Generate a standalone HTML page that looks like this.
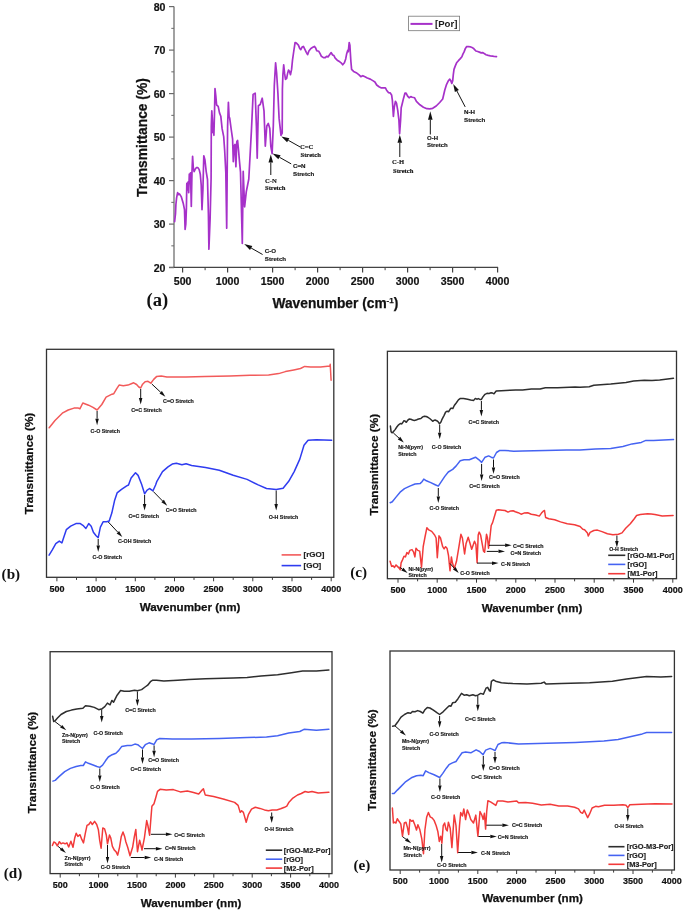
<!DOCTYPE html>
<html><head><meta charset="utf-8"><style>
html,body{margin:0;padding:0;background:#fff;width:685px;height:911px;overflow:hidden;}
svg{display:block;will-change:transform;filter:blur(0.3px);}
</style></head><body>
<svg width="685" height="911" viewBox="0 0 685 911">
<rect width="685" height="911" fill="#fff"/>
<line x1="174" y1="6.600000000000023" x2="174" y2="267.2" stroke="#7a7a7a" stroke-width="1.4"/>
<line x1="169" y1="267.4" x2="498.1" y2="267.4" stroke="#444" stroke-width="1.4"/>
<line x1="169" y1="267.6" x2="174" y2="267.6" stroke="#6a6a6a" stroke-width="1.2"/>
<text x="165.5" y="271.5" font-size="10.6" font-weight="bold" style='font-family:"Liberation Sans", sans-serif' text-anchor="end" fill="#111" stroke="#111" stroke-width="0.2">20</text>
<line x1="169" y1="224.10000000000002" x2="174" y2="224.10000000000002" stroke="#6a6a6a" stroke-width="1.2"/>
<text x="165.5" y="228.0" font-size="10.6" font-weight="bold" style='font-family:"Liberation Sans", sans-serif' text-anchor="end" fill="#111" stroke="#111" stroke-width="0.2">30</text>
<line x1="169" y1="180.60000000000002" x2="174" y2="180.60000000000002" stroke="#6a6a6a" stroke-width="1.2"/>
<text x="165.5" y="184.5" font-size="10.6" font-weight="bold" style='font-family:"Liberation Sans", sans-serif' text-anchor="end" fill="#111" stroke="#111" stroke-width="0.2">40</text>
<line x1="169" y1="137.10000000000002" x2="174" y2="137.10000000000002" stroke="#6a6a6a" stroke-width="1.2"/>
<text x="165.5" y="141.0" font-size="10.6" font-weight="bold" style='font-family:"Liberation Sans", sans-serif' text-anchor="end" fill="#111" stroke="#111" stroke-width="0.2">50</text>
<line x1="169" y1="93.60000000000002" x2="174" y2="93.60000000000002" stroke="#6a6a6a" stroke-width="1.2"/>
<text x="165.5" y="97.5" font-size="10.6" font-weight="bold" style='font-family:"Liberation Sans", sans-serif' text-anchor="end" fill="#111" stroke="#111" stroke-width="0.2">60</text>
<line x1="169" y1="50.10000000000005" x2="174" y2="50.10000000000005" stroke="#6a6a6a" stroke-width="1.2"/>
<text x="165.5" y="54.0" font-size="10.6" font-weight="bold" style='font-family:"Liberation Sans", sans-serif' text-anchor="end" fill="#111" stroke="#111" stroke-width="0.2">70</text>
<line x1="169" y1="6.600000000000023" x2="174" y2="6.600000000000023" stroke="#6a6a6a" stroke-width="1.2"/>
<text x="165.5" y="10.5" font-size="10.6" font-weight="bold" style='font-family:"Liberation Sans", sans-serif' text-anchor="end" fill="#111" stroke="#111" stroke-width="0.2">80</text>
<line x1="171.3" y1="245.85000000000002" x2="174" y2="245.85000000000002" stroke="#6a6a6a" stroke-width="1.0"/>
<line x1="171.3" y1="202.35000000000002" x2="174" y2="202.35000000000002" stroke="#6a6a6a" stroke-width="1.0"/>
<line x1="171.3" y1="158.85000000000002" x2="174" y2="158.85000000000002" stroke="#6a6a6a" stroke-width="1.0"/>
<line x1="171.3" y1="115.35000000000002" x2="174" y2="115.35000000000002" stroke="#6a6a6a" stroke-width="1.0"/>
<line x1="171.3" y1="71.85000000000005" x2="174" y2="71.85000000000005" stroke="#6a6a6a" stroke-width="1.0"/>
<line x1="171.3" y1="28.35000000000005" x2="174" y2="28.35000000000005" stroke="#6a6a6a" stroke-width="1.0"/>
<line x1="182.6" y1="267.4" x2="182.6" y2="272.5" stroke="#444" stroke-width="1.2"/>
<text x="182.6" y="284.8" font-size="10.6" font-weight="bold" style='font-family:"Liberation Sans", sans-serif' text-anchor="middle" fill="#111" stroke="#111" stroke-width="0.2">500</text>
<line x1="227.6" y1="267.4" x2="227.6" y2="272.5" stroke="#444" stroke-width="1.2"/>
<text x="227.6" y="284.8" font-size="10.6" font-weight="bold" style='font-family:"Liberation Sans", sans-serif' text-anchor="middle" fill="#111" stroke="#111" stroke-width="0.2">1000</text>
<line x1="272.6" y1="267.4" x2="272.6" y2="272.5" stroke="#444" stroke-width="1.2"/>
<text x="272.6" y="284.8" font-size="10.6" font-weight="bold" style='font-family:"Liberation Sans", sans-serif' text-anchor="middle" fill="#111" stroke="#111" stroke-width="0.2">1500</text>
<line x1="317.6" y1="267.4" x2="317.6" y2="272.5" stroke="#444" stroke-width="1.2"/>
<text x="317.6" y="284.8" font-size="10.6" font-weight="bold" style='font-family:"Liberation Sans", sans-serif' text-anchor="middle" fill="#111" stroke="#111" stroke-width="0.2">2000</text>
<line x1="362.6" y1="267.4" x2="362.6" y2="272.5" stroke="#444" stroke-width="1.2"/>
<text x="362.6" y="284.8" font-size="10.6" font-weight="bold" style='font-family:"Liberation Sans", sans-serif' text-anchor="middle" fill="#111" stroke="#111" stroke-width="0.2">2500</text>
<line x1="407.6" y1="267.4" x2="407.6" y2="272.5" stroke="#444" stroke-width="1.2"/>
<text x="407.6" y="284.8" font-size="10.6" font-weight="bold" style='font-family:"Liberation Sans", sans-serif' text-anchor="middle" fill="#111" stroke="#111" stroke-width="0.2">3000</text>
<line x1="452.6" y1="267.4" x2="452.6" y2="272.5" stroke="#444" stroke-width="1.2"/>
<text x="452.6" y="284.8" font-size="10.6" font-weight="bold" style='font-family:"Liberation Sans", sans-serif' text-anchor="middle" fill="#111" stroke="#111" stroke-width="0.2">3500</text>
<line x1="497.6" y1="267.4" x2="497.6" y2="272.5" stroke="#444" stroke-width="1.2"/>
<text x="497.6" y="284.8" font-size="10.6" font-weight="bold" style='font-family:"Liberation Sans", sans-serif' text-anchor="middle" fill="#111" stroke="#111" stroke-width="0.2">4000</text>
<line x1="205.1" y1="267.4" x2="205.1" y2="270.2" stroke="#444" stroke-width="1.0"/>
<line x1="250.1" y1="267.4" x2="250.1" y2="270.2" stroke="#444" stroke-width="1.0"/>
<line x1="295.1" y1="267.4" x2="295.1" y2="270.2" stroke="#444" stroke-width="1.0"/>
<line x1="340.1" y1="267.4" x2="340.1" y2="270.2" stroke="#444" stroke-width="1.0"/>
<line x1="385.1" y1="267.4" x2="385.1" y2="270.2" stroke="#444" stroke-width="1.0"/>
<line x1="430.1" y1="267.4" x2="430.1" y2="270.2" stroke="#444" stroke-width="1.0"/>
<line x1="475.1" y1="267.4" x2="475.1" y2="270.2" stroke="#444" stroke-width="1.0"/>
<text x="0" y="0" font-size="13.8" font-weight="bold" font-family='"Liberation Sans", sans-serif' text-anchor="middle" fill="#111" stroke="#111" stroke-width="0.25" transform="translate(147.0,137.6) rotate(-90)">Transmittance (%)</text>
<text x="272.5" y="308.2" font-size="13.75" font-weight="bold" font-family='"Liberation Sans", sans-serif' fill="#111" stroke="#111" stroke-width="0.25">Wavenumber (cm<tspan font-size="8" dy="-5.3">-1</tspan><tspan dy="5.3">)</tspan></text>
<text x="146.6" y="305.6" font-size="18.6" font-weight="bold" style='font-family:"Liberation Serif", serif' text-anchor="start" fill="#111" >(a)</text>
<polyline points="174.6,221.6 175.5,213.7 175.9,204.5 176.6,197.9 177.6,192.6 178.6,194.6 179.5,193.9 181.2,196.6 183.2,203.2 184.5,209.7 185.1,229.5 185.8,224.2 186.4,208.4 186.8,183.4 187.5,190.0 188.0,182.1 188.7,192.6 189.3,174.2 190.0,183.4 190.5,172.9 191.3,206.4 192.0,171.6 192.6,156.4 193.3,167.6 194.1,171.6 195.0,169.6 196.3,167.6 197.9,167.6 199.2,169.6 200.3,174.2 201.2,184.7 202.0,209.7 202.9,190.0 203.8,155.8 204.9,159.7 206.2,171.6 207.5,179.5 208.4,213.7 208.9,249.2 210.1,219.0 211.1,178.2 211.3,126.1 211.8,110.9 212.4,119.5 212.9,132.6 213.6,126.1 213.9,135.3 214.5,112.9 215.0,88.6 215.8,95.8 216.6,105.0 218.2,106.3 219.5,112.9 220.8,116.2 222.1,128.7 223.7,136.6 224.7,151.0 225.8,172.1 226.7,228.2 227.6,126.1 228.4,102.4 229.1,116.8 229.7,118.2 231.3,130.0 232.6,139.2 233.3,161.6 234.2,145.8 235.0,144.5 235.9,166.8 236.8,141.8 237.6,140.5 238.6,151.0 239.5,161.6 240.5,172.1 242.3,243.5 243.2,171.4 244.6,206.8 246.3,191.6 248.8,179.0 251.4,131.0 253.1,94.4 255.2,93.1 256.4,126.0 257.2,158.2 258.4,105.8 260.2,104.5 262.2,98.2 264.0,110.8 265.3,146.2 266.8,126.0 268.3,123.4 269.8,128.5 270.8,146.2 272.1,153.7 273.3,126.0 274.3,85.6 275.6,62.8 276.6,72.9 277.9,93.1 279.1,118.4 281.0,135.3 282.2,133.0 282.4,89.1 282.9,74.7 283.7,64.8 284.6,73.4 285.5,79.3 286.6,78.6 287.6,73.4 288.5,70.1 289.5,71.4 290.5,74.7 291.6,69.4 292.5,60.2 293.8,51.0 295.1,42.5 296.4,43.1 298.4,45.1 299.7,48.4 300.8,49.7 302.1,47.1 303.4,46.4 305.0,49.7 306.3,52.3 307.6,54.7 308.9,51.0 310.9,48.4 312.8,47.3 314.4,46.4 315.5,47.7 316.8,50.8 318.8,51.3 320.1,53.7 321.4,56.3 323.4,57.6 325.3,57.6 326.6,56.3 328.0,56.9 329.9,54.3 331.2,52.6 332.6,55.0 333.9,55.6 335.2,58.2 337.2,60.2 339.8,61.8 341.1,62.8 342.7,64.8 344.4,62.8 345.7,58.9 346.7,53.7 347.7,50.4 348.3,51.7 349.2,42.5 349.9,45.1 350.3,52.3 350.9,61.5 351.6,69.4 353.6,71.4 356.2,72.7 358.8,74.7 360.8,76.6 362.8,75.7 365.0,76.8 367.3,78.0 370.3,79.1 373.2,80.9 374.9,82.0 376.7,85.0 379.0,86.7 381.4,87.9 383.7,87.9 385.4,87.9 386.6,90.2 388.4,92.6 390.1,92.8 391.6,94.9 392.4,100.7 393.0,110.1 393.4,116.5 394.2,107.7 395.4,101.3 396.5,103.1 397.7,110.1 398.9,120.0 399.6,133.8 400.6,120.0 401.2,107.7 402.1,104.2 403.5,98.4 405.0,93.1 406.1,93.1 407.6,96.1 409.1,97.8 410.8,96.6 412.3,97.2 414.6,97.8 416.4,101.3 419.9,104.8 423.4,107.2 426.9,108.7 429.8,108.9 432.7,108.3 436.2,106.0 439.7,102.5 442.7,99.0 444.8,90.0 446.6,84.3 448.3,80.8 449.8,79.2 450.7,80.4 451.8,83.4 452.7,80.8 453.3,74.7 454.0,69.4 455.3,65.9 456.6,62.8 458.4,60.7 460.1,58.9 461.9,56.7 462.9,54.1 464.1,51.9 465.4,48.4 466.7,46.6 468.5,46.5 470.2,46.8 472.0,47.5 473.7,48.4 474.6,49.7 475.9,51.0 477.7,51.5 479.4,52.1 481.2,52.9 482.9,52.6 484.2,53.6 486.0,54.7 488.2,55.4 490.4,55.8 492.6,56.1 494.3,56.5 496.5,56.7" fill="none" stroke="#a631c9" stroke-width="1.7" stroke-linejoin="round" stroke-linecap="round"/>
<rect x="408.6" y="16.2" width="51" height="14.5" fill="#fff" stroke="#777" stroke-width="0.8"/>
<line x1="410.5" y1="23.9" x2="432.5" y2="23.9" stroke="#a631c9" stroke-width="2.0"/>
<text x="435" y="27.0" font-size="9.6" font-weight="bold" style='font-family:"Liberation Sans", sans-serif' text-anchor="start" fill="#1a1a1a" >[Por]</text>
<line x1="262.6" y1="254.5" x2="251.1" y2="248.0" stroke="#111" stroke-width="1.0"/>
<polygon points="244.2,244.0 252.3,246.0 250.0,250.0" fill="#111"/>
<text x="264.8" y="252.8" font-size="6.2" font-weight="bold" style='font-family:"Liberation Sans", sans-serif' text-anchor="start" fill="#1a1a1a" stroke="#1a1a1a" stroke-width="0.18">C-O</text>
<text x="264.8" y="260.8" font-size="6.2" font-weight="bold" style='font-family:"Liberation Sans", sans-serif' text-anchor="start" fill="#1a1a1a" stroke="#1a1a1a" stroke-width="0.18">Stretch</text>
<line x1="300.0" y1="146.9" x2="288.3" y2="140.3" stroke="#111" stroke-width="1.0"/>
<polygon points="281.3,136.4 289.4,138.3 287.1,142.3" fill="#111"/>
<text x="300.0" y="149.3" font-size="6.6" font-weight="bold" style='font-family:"Liberation Serif", serif' text-anchor="start" fill="#1a1a1a" stroke="#1a1a1a" stroke-width="0.18">C=C</text>
<text x="300.5" y="156.9" font-size="6.6" font-weight="bold" style='font-family:"Liberation Serif", serif' text-anchor="start" fill="#1a1a1a" stroke="#1a1a1a" stroke-width="0.18">Stretch</text>
<line x1="291.2" y1="163.9" x2="279.5" y2="157.3" stroke="#111" stroke-width="1.0"/>
<polygon points="272.5,153.4 280.6,155.3 278.3,159.3" fill="#111"/>
<text x="293.0" y="168.4" font-size="6.2" font-weight="bold" style='font-family:"Liberation Sans", sans-serif' text-anchor="start" fill="#1a1a1a" stroke="#1a1a1a" stroke-width="0.18">C=N</text>
<text x="293.0" y="176.0" font-size="6.2" font-weight="bold" style='font-family:"Liberation Sans", sans-serif' text-anchor="start" fill="#1a1a1a" stroke="#1a1a1a" stroke-width="0.18">Stretch</text>
<line x1="270.8" y1="175.0" x2="270.8" y2="162.5" stroke="#111" stroke-width="1.0"/>
<polygon points="270.8,154.5 273.1,162.5 268.5,162.5" fill="#111"/>
<text x="265.0" y="183.1" font-size="6.6" font-weight="bold" style='font-family:"Liberation Serif", serif' text-anchor="start" fill="#1a1a1a" stroke="#1a1a1a" stroke-width="0.18">C-N</text>
<text x="265.0" y="190.2" font-size="6.6" font-weight="bold" style='font-family:"Liberation Serif", serif' text-anchor="start" fill="#1a1a1a" stroke="#1a1a1a" stroke-width="0.18">Stretch</text>
<line x1="399.8" y1="157.0" x2="399.8" y2="142.8" stroke="#111" stroke-width="1.0"/>
<polygon points="399.8,134.8 402.1,142.8 397.5,142.8" fill="#111"/>
<text x="392.0" y="164.2" font-size="6.6" font-weight="bold" style='font-family:"Liberation Serif", serif' text-anchor="start" fill="#1a1a1a" stroke="#1a1a1a" stroke-width="0.18">C-H</text>
<text x="393.0" y="172.9" font-size="6.6" font-weight="bold" style='font-family:"Liberation Serif", serif' text-anchor="start" fill="#1a1a1a" stroke="#1a1a1a" stroke-width="0.18">Stretch</text>
<line x1="430.3" y1="134.5" x2="430.3" y2="119.7" stroke="#111" stroke-width="1.0"/>
<polygon points="430.3,111.2 432.6,119.7 428.0,119.7" fill="#111"/>
<text x="427.1" y="139.7" font-size="6.0" font-weight="bold" style='font-family:"Liberation Sans", sans-serif' text-anchor="start" fill="#1a1a1a" stroke="#1a1a1a" stroke-width="0.18">O-H</text>
<text x="427.1" y="147.0" font-size="6.0" font-weight="bold" style='font-family:"Liberation Sans", sans-serif' text-anchor="start" fill="#1a1a1a" stroke="#1a1a1a" stroke-width="0.18">Stretch</text>
<line x1="465.2" y1="106.9" x2="456.9" y2="91.0" stroke="#111" stroke-width="1.0"/>
<polygon points="453.2,83.9 458.9,89.9 454.9,92.1" fill="#111"/>
<text x="464.0" y="114.4" font-size="6.2" font-weight="bold" style='font-family:"Liberation Sans", sans-serif' text-anchor="start" fill="#1a1a1a" stroke="#1a1a1a" stroke-width="0.18">N-H</text>
<text x="464.0" y="122.0" font-size="6.2" font-weight="bold" style='font-family:"Liberation Sans", sans-serif' text-anchor="start" fill="#1a1a1a" stroke="#1a1a1a" stroke-width="0.18">Stretch</text>
<rect x="46.5" y="349.3" width="287.3" height="227.99999999999994" fill="none" stroke="#333" stroke-width="1.3"/>
<line x1="56.9" y1="577.3" x2="56.9" y2="581.3" stroke="#3c3c3c" stroke-width="1.0"/>
<line x1="76.5" y1="577.3" x2="76.5" y2="579.9" stroke="#3c3c3c" stroke-width="1.0"/>
<line x1="96.1" y1="577.3" x2="96.1" y2="581.3" stroke="#3c3c3c" stroke-width="1.0"/>
<line x1="115.7" y1="577.3" x2="115.7" y2="579.9" stroke="#3c3c3c" stroke-width="1.0"/>
<line x1="135.3" y1="577.3" x2="135.3" y2="581.3" stroke="#3c3c3c" stroke-width="1.0"/>
<line x1="154.9" y1="577.3" x2="154.9" y2="579.9" stroke="#3c3c3c" stroke-width="1.0"/>
<line x1="174.5" y1="577.3" x2="174.5" y2="581.3" stroke="#3c3c3c" stroke-width="1.0"/>
<line x1="194.0" y1="577.3" x2="194.0" y2="579.9" stroke="#3c3c3c" stroke-width="1.0"/>
<line x1="213.6" y1="577.3" x2="213.6" y2="581.3" stroke="#3c3c3c" stroke-width="1.0"/>
<line x1="233.2" y1="577.3" x2="233.2" y2="579.9" stroke="#3c3c3c" stroke-width="1.0"/>
<line x1="252.8" y1="577.3" x2="252.8" y2="581.3" stroke="#3c3c3c" stroke-width="1.0"/>
<line x1="272.4" y1="577.3" x2="272.4" y2="579.9" stroke="#3c3c3c" stroke-width="1.0"/>
<line x1="292.0" y1="577.3" x2="292.0" y2="581.3" stroke="#3c3c3c" stroke-width="1.0"/>
<line x1="311.6" y1="577.3" x2="311.6" y2="579.9" stroke="#3c3c3c" stroke-width="1.0"/>
<line x1="331.2" y1="577.3" x2="331.2" y2="581.3" stroke="#3c3c3c" stroke-width="1.0"/>
<text x="56.9" y="592.0" font-size="9.0" font-weight="bold" style='font-family:"Liberation Sans", sans-serif' text-anchor="middle" fill="#111" stroke="#111" stroke-width="0.2">500</text>
<text x="96.1" y="592.0" font-size="9.0" font-weight="bold" style='font-family:"Liberation Sans", sans-serif' text-anchor="middle" fill="#111" stroke="#111" stroke-width="0.2">1000</text>
<text x="135.3" y="592.0" font-size="9.0" font-weight="bold" style='font-family:"Liberation Sans", sans-serif' text-anchor="middle" fill="#111" stroke="#111" stroke-width="0.2">1500</text>
<text x="174.5" y="592.0" font-size="9.0" font-weight="bold" style='font-family:"Liberation Sans", sans-serif' text-anchor="middle" fill="#111" stroke="#111" stroke-width="0.2">2000</text>
<text x="213.6" y="592.0" font-size="9.0" font-weight="bold" style='font-family:"Liberation Sans", sans-serif' text-anchor="middle" fill="#111" stroke="#111" stroke-width="0.2">2500</text>
<text x="252.8" y="592.0" font-size="9.0" font-weight="bold" style='font-family:"Liberation Sans", sans-serif' text-anchor="middle" fill="#111" stroke="#111" stroke-width="0.2">3000</text>
<text x="292.0" y="592.0" font-size="9.0" font-weight="bold" style='font-family:"Liberation Sans", sans-serif' text-anchor="middle" fill="#111" stroke="#111" stroke-width="0.2">3500</text>
<text x="331.2" y="592.0" font-size="9.0" font-weight="bold" style='font-family:"Liberation Sans", sans-serif' text-anchor="middle" fill="#111" stroke="#111" stroke-width="0.2">4000</text>
<text x="190" y="610.7" font-size="11.6" font-weight="bold" style='font-family:"Liberation Sans", sans-serif' text-anchor="middle" fill="#111" stroke="#111" stroke-width="0.25">Wavenumber (nm)</text>
<text x="0" y="0" font-size="11.8" font-weight="bold" font-family='"Liberation Sans", sans-serif' text-anchor="middle" fill="#111" stroke="#111" stroke-width="0.25" transform="translate(33.2,463.5) rotate(-90)">Transmittance (%)</text>
<text x="1.6" y="578.8" font-size="15.2" font-weight="bold" style='font-family:"Liberation Serif", serif' text-anchor="start" fill="#111" >(b)</text>
<polyline points="49.2,427.8 55.0,420.5 62.3,413.2 68.2,410.0 74.0,408.1 78.4,408.1 79.9,408.8 82.8,403.0 88.6,405.2 93.0,407.4 97.1,410.0 101.8,404.5 106.1,397.2 112.0,394.2 113.8,393.7 116.6,388.9 119.1,385.1 123.3,385.7 128.0,385.1 131.3,383.8 133.7,382.8 136.6,384.5 138.8,387.0 140.7,388.0 142.6,384.2 145.1,381.7 148.0,381.3 150.8,383.2 153.7,379.4 156.5,376.6 161.2,376.0 166.9,377.1 185.9,377.1 204.9,376.6 230.0,376.1 250.1,375.3 268.6,374.9 278.7,373.6 285.4,371.6 293.8,369.9 300.5,368.5 304.7,366.4 310.6,366.9 320.6,366.9 329.9,366.0 330.2,364.3 331.1,380.3" fill="none" stroke="#f25a5a" stroke-width="1.5" stroke-linejoin="round" stroke-linecap="round"/>
<polyline points="49.1,555.1 52.3,549.9 55.8,543.7 59.3,541.1 61.9,542.9 63.7,537.6 66.3,529.7 70.7,526.2 75.9,523.6 80.3,523.6 82.9,525.3 85.9,528.5 88.7,523.6 91.2,526.2 93.4,532.3 96.1,535.8 98.2,537.6 100.4,527.1 103.1,521.8 106.6,521.8 109.2,521.0 111.8,513.1 114.5,500.8 117.1,492.9 121.5,489.4 126.7,485.9 128.5,485.0 131.1,478.0 135.5,472.8 138.1,475.4 141.6,484.2 144.6,493.8 146.9,490.3 149.5,488.5 153.0,490.8 155.6,485.0 156.9,481.3 162.5,471.6 168.0,466.9 172.2,464.1 176.4,463.3 181.9,464.7 186.1,463.8 191.6,465.5 205.5,467.4 219.3,470.2 233.2,475.2 247.1,479.4 258.2,484.9 266.5,488.5 276.2,489.4 283.1,488.3 288.7,481.3 294.2,471.6 299.8,459.1 304.0,445.3 308.1,440.3 316.4,439.7 331.7,440.3" fill="none" stroke="#2f3cf0" stroke-width="1.5" stroke-linejoin="round" stroke-linecap="round"/>
<line x1="97.1" y1="411.0" x2="97.1" y2="418.7" stroke="#111" stroke-width="1.0"/>
<polygon points="97.1,425.2 95.3,418.7 98.8,418.7" fill="#111"/>
<text x="90.6" y="433.1" font-size="5.3" font-weight="bold" style='font-family:"Liberation Sans", sans-serif' text-anchor="start" fill="#1a1a1a" stroke="#1a1a1a" stroke-width="0.18">C-O Stretch</text>
<line x1="140.7" y1="389.0" x2="140.7" y2="398.0" stroke="#111" stroke-width="1.0"/>
<polygon points="140.7,404.5 138.9,398.0 142.4,398.0" fill="#111"/>
<text x="131.3" y="411.7" font-size="5.3" font-weight="bold" style='font-family:"Liberation Sans", sans-serif' text-anchor="start" fill="#1a1a1a" stroke="#1a1a1a" stroke-width="0.18">C=C Stretch</text>
<line x1="151.8" y1="384.0" x2="160.7" y2="392.3" stroke="#111" stroke-width="1.0"/>
<polygon points="165.4,396.8 159.5,393.6 161.9,391.1" fill="#111"/>
<text x="163.1" y="403.1" font-size="5.3" font-weight="bold" style='font-family:"Liberation Sans", sans-serif' text-anchor="start" fill="#1a1a1a" stroke="#1a1a1a" stroke-width="0.18">C=O Stretch</text>
<line x1="98.2" y1="539.0" x2="98.2" y2="545.5" stroke="#111" stroke-width="1.0"/>
<polygon points="98.2,552.0 96.5,545.5 100.0,545.5" fill="#111"/>
<text x="92.6" y="559.4" font-size="5.3" font-weight="bold" style='font-family:"Liberation Sans", sans-serif' text-anchor="start" fill="#1a1a1a" stroke="#1a1a1a" stroke-width="0.18">C-O Stretch</text>
<line x1="108.3" y1="522.0" x2="117.8" y2="532.2" stroke="#111" stroke-width="1.0"/>
<polygon points="122.3,536.9 116.6,533.4 119.1,531.0" fill="#111"/>
<text x="118.0" y="542.8" font-size="5.3" font-weight="bold" style='font-family:"Liberation Sans", sans-serif' text-anchor="start" fill="#1a1a1a" stroke="#1a1a1a" stroke-width="0.18">C-OH Stretch</text>
<line x1="144.6" y1="495.0" x2="144.6" y2="504.1" stroke="#111" stroke-width="1.0"/>
<polygon points="144.6,510.6 142.8,504.1 146.3,504.1" fill="#111"/>
<text x="128.5" y="518.1" font-size="5.3" font-weight="bold" style='font-family:"Liberation Sans", sans-serif' text-anchor="start" fill="#1a1a1a" stroke="#1a1a1a" stroke-width="0.18">C=C Stretch</text>
<line x1="153.3" y1="491.5" x2="162.7" y2="501.1" stroke="#111" stroke-width="1.0"/>
<polygon points="167.2,505.7 161.4,502.3 163.9,499.8" fill="#111"/>
<text x="165.8" y="511.6" font-size="5.3" font-weight="bold" style='font-family:"Liberation Sans", sans-serif' text-anchor="start" fill="#1a1a1a" stroke="#1a1a1a" stroke-width="0.18">C=O Stretch</text>
<line x1="276.2" y1="490.5" x2="276.2" y2="504.1" stroke="#111" stroke-width="1.0"/>
<polygon points="276.2,510.6 274.4,504.1 277.9,504.1" fill="#111"/>
<text x="268.7" y="518.6" font-size="5.3" font-weight="bold" style='font-family:"Liberation Sans", sans-serif' text-anchor="start" fill="#1a1a1a" stroke="#1a1a1a" stroke-width="0.18">O-H Stretch</text>
<line x1="281.6" y1="554.9" x2="301.1" y2="554.9" stroke="#f25a5a" stroke-width="1.6"/>
<text x="303.5" y="557.3" font-size="8.0" font-weight="bold" style='font-family:"Liberation Sans", sans-serif' text-anchor="start" fill="#222" stroke="#222" stroke-width="0.18">[rGO]</text>
<line x1="281.6" y1="565.6" x2="301.1" y2="565.6" stroke="#2f3cf0" stroke-width="1.6"/>
<text x="303.5" y="568.0" font-size="8.0" font-weight="bold" style='font-family:"Liberation Sans", sans-serif' text-anchor="start" fill="#222" stroke="#222" stroke-width="0.18">[GO]</text>
<rect x="387.4" y="351.3" width="289.1" height="227.40000000000003" fill="none" stroke="#333" stroke-width="1.3"/>
<line x1="398.0" y1="578.7" x2="398.0" y2="582.7" stroke="#3c3c3c" stroke-width="1.0"/>
<line x1="417.6" y1="578.7" x2="417.6" y2="581.3000000000001" stroke="#3c3c3c" stroke-width="1.0"/>
<line x1="437.2" y1="578.7" x2="437.2" y2="582.7" stroke="#3c3c3c" stroke-width="1.0"/>
<line x1="456.9" y1="578.7" x2="456.9" y2="581.3000000000001" stroke="#3c3c3c" stroke-width="1.0"/>
<line x1="476.5" y1="578.7" x2="476.5" y2="582.7" stroke="#3c3c3c" stroke-width="1.0"/>
<line x1="496.1" y1="578.7" x2="496.1" y2="581.3000000000001" stroke="#3c3c3c" stroke-width="1.0"/>
<line x1="515.8" y1="578.7" x2="515.8" y2="582.7" stroke="#3c3c3c" stroke-width="1.0"/>
<line x1="535.4" y1="578.7" x2="535.4" y2="581.3000000000001" stroke="#3c3c3c" stroke-width="1.0"/>
<line x1="555.0" y1="578.7" x2="555.0" y2="582.7" stroke="#3c3c3c" stroke-width="1.0"/>
<line x1="574.6" y1="578.7" x2="574.6" y2="581.3000000000001" stroke="#3c3c3c" stroke-width="1.0"/>
<line x1="594.2" y1="578.7" x2="594.2" y2="582.7" stroke="#3c3c3c" stroke-width="1.0"/>
<line x1="613.9" y1="578.7" x2="613.9" y2="581.3000000000001" stroke="#3c3c3c" stroke-width="1.0"/>
<line x1="633.5" y1="578.7" x2="633.5" y2="582.7" stroke="#3c3c3c" stroke-width="1.0"/>
<line x1="653.1" y1="578.7" x2="653.1" y2="581.3000000000001" stroke="#3c3c3c" stroke-width="1.0"/>
<line x1="672.8" y1="578.7" x2="672.8" y2="582.7" stroke="#3c3c3c" stroke-width="1.0"/>
<text x="398.0" y="593.3" font-size="9.0" font-weight="bold" style='font-family:"Liberation Sans", sans-serif' text-anchor="middle" fill="#111" stroke="#111" stroke-width="0.2">500</text>
<text x="437.2" y="593.3" font-size="9.0" font-weight="bold" style='font-family:"Liberation Sans", sans-serif' text-anchor="middle" fill="#111" stroke="#111" stroke-width="0.2">1000</text>
<text x="476.5" y="593.3" font-size="9.0" font-weight="bold" style='font-family:"Liberation Sans", sans-serif' text-anchor="middle" fill="#111" stroke="#111" stroke-width="0.2">1500</text>
<text x="515.8" y="593.3" font-size="9.0" font-weight="bold" style='font-family:"Liberation Sans", sans-serif' text-anchor="middle" fill="#111" stroke="#111" stroke-width="0.2">2000</text>
<text x="555.0" y="593.3" font-size="9.0" font-weight="bold" style='font-family:"Liberation Sans", sans-serif' text-anchor="middle" fill="#111" stroke="#111" stroke-width="0.2">2500</text>
<text x="594.2" y="593.3" font-size="9.0" font-weight="bold" style='font-family:"Liberation Sans", sans-serif' text-anchor="middle" fill="#111" stroke="#111" stroke-width="0.2">3000</text>
<text x="633.5" y="593.3" font-size="9.0" font-weight="bold" style='font-family:"Liberation Sans", sans-serif' text-anchor="middle" fill="#111" stroke="#111" stroke-width="0.2">3500</text>
<text x="672.8" y="593.3" font-size="9.0" font-weight="bold" style='font-family:"Liberation Sans", sans-serif' text-anchor="middle" fill="#111" stroke="#111" stroke-width="0.2">4000</text>
<text x="532" y="611.6" font-size="11.6" font-weight="bold" style='font-family:"Liberation Sans", sans-serif' text-anchor="middle" fill="#111" stroke="#111" stroke-width="0.25">Wavenumber (nm)</text>
<text x="0" y="0" font-size="11.8" font-weight="bold" font-family='"Liberation Sans", sans-serif' text-anchor="middle" fill="#111" stroke="#111" stroke-width="0.25" transform="translate(378.2,464.7) rotate(-90)">Transmittance (%)</text>
<text x="350.2" y="577.0" font-size="15.2" font-weight="bold" style='font-family:"Liberation Serif", serif' text-anchor="start" fill="#111" >(c)</text>
<polyline points="390.4,426.1 391.1,431.8 392.0,432.8 393.3,431.8 395.1,429.6 396.8,427.0 398.6,424.8 400.3,423.5 401.6,423.9 403.0,422.2 403.8,420.8 405.0,421.1 405.8,422.0 406.5,422.2 407.6,420.4 409.1,419.1 410.8,419.3 412.6,420.0 414.3,420.4 416.1,420.1 417.8,419.3 419.6,418.8 420.9,418.5 422.7,416.9 424.4,416.3 426.2,416.5 427.9,417.3 429.7,418.5 431.4,420.0 432.7,421.3 433.9,420.4 435.1,420.0 436.7,420.7 438.0,421.7 439.5,423.9 441.1,421.7 442.0,419.3 444.1,415.3 445.6,412.2 447.2,411.2 448.7,411.7 450.2,409.1 451.2,408.1 452.8,408.6 454.3,405.5 456.4,402.7 458.4,399.9 460.4,398.4 463.5,398.4 467.6,399.2 470.7,399.9 473.7,400.4 475.3,398.4 476.8,399.2 478.3,398.6 479.9,399.4 481.4,399.4 482.9,396.9 485.0,394.3 487.0,393.3 489.0,393.5 491.1,392.8 492.6,393.1 494.0,393.8 496.2,391.0 501.3,390.7 510.0,390.2 515.6,389.9 522.6,389.9 531.3,389.1 540.1,389.1 545.3,387.8 557.6,387.7 575.1,387.0 580.0,387.2 589.2,386.8 593.8,385.2 610.7,384.1 626.0,382.6 633.6,381.1 644.4,380.2 652.0,380.6 659.7,379.9 673.5,378.3" fill="none" stroke="#2e2e2e" stroke-width="1.5" stroke-linejoin="round" stroke-linecap="round"/>
<polyline points="390.2,502.7 392.3,501.8 395.8,497.4 400.1,492.2 404.5,488.7 409.8,486.1 415.0,484.0 420.3,483.4 422.0,481.7 423.8,479.1 426.4,480.8 430.8,482.6 435.2,484.7 438.3,486.1 441.3,481.7 444.8,476.4 448.3,472.0 452.7,469.4 456.2,465.9 460.2,460.7 464.1,459.8 469.3,459.8 475.5,457.2 479.0,459.8 481.6,462.4 485.1,457.2 488.6,455.9 491.2,457.2 493.5,458.0 496.5,452.5 499.8,450.4 505.0,450.4 513.8,451.2 522.6,450.9 545.3,450.4 566.4,450.0 580.0,449.9 595.3,449.1 610.7,448.5 622.9,446.5 632.1,443.9 641.3,442.4 645.9,440.4 653.6,440.4 673.5,439.6" fill="none" stroke="#4563f2" stroke-width="1.5" stroke-linejoin="round" stroke-linecap="round"/>
<polyline points="390.1,561.3 391.6,566.4 393.0,565.7 394.5,567.4 396.0,565.0 397.4,566.4 398.9,567.9 400.3,569.8 401.1,562.8 402.5,559.9 404.0,556.2 405.4,556.9 406.9,552.6 408.4,554.0 409.8,550.4 412.0,549.6 413.5,551.8 414.9,556.9 416.0,548.2 417.8,550.4 419.7,551.1 421.5,567.2 423.2,546.7 425.1,536.5 426.9,527.7 428.8,529.9 431.7,531.4 434.6,535.0 436.1,538.0 437.3,557.7 439.0,535.8 440.5,538.0 442.7,546.7 444.1,548.9 445.6,546.7 447.0,548.2 448.5,555.5 450.0,570.8 451.4,556.9 452.4,562.8 454.3,568.6 456.5,561.3 458.7,548.2 460.9,534.3 462.4,538.0 464.6,554.0 466.0,543.8 468.2,537.2 469.7,542.3 471.7,549.2 474.5,541.2 475.9,544.5 477.1,562.8 478.2,535.0 479.2,532.1 480.6,535.0 482.2,543.8 483.5,551.1 484.6,552.3 485.8,540.9 486.5,534.3 487.5,538.0 488.5,548.2 489.7,539.4 491.2,525.5 492.6,522.6 494.1,517.5 496.3,510.2 498.5,509.8 502.1,510.2 505.0,510.5 508.0,512.1 510.9,510.9 513.1,510.7 515.3,511.7 518.2,512.7 521.1,514.2 524.0,513.1 527.7,512.7 531.3,514.2 535.7,515.0 539.3,516.1 541.5,513.1 543.0,511.4 544.5,510.5 545.6,517.5 548.8,518.7 554.7,519.7 560.5,521.9 567.3,523.8 574.6,524.7 580.1,526.5 582.8,529.2 584.6,529.8 587.4,532.9 588.3,536.0 590.1,532.3 593.8,530.5 597.4,530.1 602.0,531.6 607.4,533.8 612.9,534.7 618.4,534.2 622.0,532.9 625.7,528.3 630.3,523.8 633.9,519.2 636.6,515.5 640.3,514.6 647.6,513.7 651.2,514.1 654.9,514.6 662.2,515.9 673.1,515.5" fill="none" stroke="#f23a3a" stroke-width="1.5" stroke-linejoin="round" stroke-linecap="round"/>
<line x1="393.3" y1="432.9" x2="399.0" y2="438.1" stroke="#111" stroke-width="1.0"/>
<polygon points="403.8,442.5 397.8,439.4 400.2,436.8" fill="#111"/>
<text x="398.2" y="449.1" font-size="5.3" font-weight="bold" style='font-family:"Liberation Sans", sans-serif' text-anchor="start" fill="#1a1a1a" stroke="#1a1a1a" stroke-width="0.18">Ni-N(pyrr)</text>
<text x="398.2" y="455.9" font-size="5.3" font-weight="bold" style='font-family:"Liberation Sans", sans-serif' text-anchor="start" fill="#1a1a1a" stroke="#1a1a1a" stroke-width="0.18">Stretch</text>
<line x1="439.7" y1="425.0" x2="439.7" y2="432.7" stroke="#111" stroke-width="1.0"/>
<polygon points="439.7,439.2 437.9,432.7 441.4,432.7" fill="#111"/>
<text x="431.8" y="448.7" font-size="5.3" font-weight="bold" style='font-family:"Liberation Sans", sans-serif' text-anchor="start" fill="#1a1a1a" stroke="#1a1a1a" stroke-width="0.18">C-O Stretch</text>
<line x1="481.4" y1="401.0" x2="481.4" y2="409.9" stroke="#111" stroke-width="1.0"/>
<polygon points="481.4,416.4 479.6,409.9 483.1,409.9" fill="#111"/>
<text x="468.6" y="424.4" font-size="5.3" font-weight="bold" style='font-family:"Liberation Sans", sans-serif' text-anchor="start" fill="#1a1a1a" stroke="#1a1a1a" stroke-width="0.18">C=C Stretch</text>
<line x1="438.3" y1="488.0" x2="438.3" y2="496.4" stroke="#111" stroke-width="1.0"/>
<polygon points="438.3,502.9 436.6,496.4 440.1,496.4" fill="#111"/>
<text x="429.6" y="510.3" font-size="5.3" font-weight="bold" style='font-family:"Liberation Sans", sans-serif' text-anchor="start" fill="#1a1a1a" stroke="#1a1a1a" stroke-width="0.18">C-O Stretch</text>
<line x1="481.6" y1="464.0" x2="481.6" y2="474.5" stroke="#111" stroke-width="1.0"/>
<polygon points="481.6,481.0 479.9,474.5 483.4,474.5" fill="#111"/>
<text x="469.3" y="488.1" font-size="5.3" font-weight="bold" style='font-family:"Liberation Sans", sans-serif' text-anchor="start" fill="#1a1a1a" stroke="#1a1a1a" stroke-width="0.18">C=C Stretch</text>
<line x1="493.5" y1="459.5" x2="493.5" y2="467.5" stroke="#111" stroke-width="1.0"/>
<polygon points="493.5,474.0 491.8,467.5 495.2,467.5" fill="#111"/>
<text x="489.0" y="479.4" font-size="5.3" font-weight="bold" style='font-family:"Liberation Sans", sans-serif' text-anchor="start" fill="#1a1a1a" stroke="#1a1a1a" stroke-width="0.18">C=O Stretch</text>
<line x1="399.6" y1="567.2" x2="402.3" y2="569.2" stroke="#111" stroke-width="1.0"/>
<polygon points="407.6,573.0 401.3,570.6 403.4,567.8" fill="#111"/>
<text x="408.4" y="570.5" font-size="5.3" font-weight="bold" style='font-family:"Liberation Sans", sans-serif' text-anchor="start" fill="#1a1a1a" stroke="#1a1a1a" stroke-width="0.18">Ni-N(pyrr)</text>
<text x="408.4" y="577.3" font-size="5.3" font-weight="bold" style='font-family:"Liberation Sans", sans-serif' text-anchor="start" fill="#1a1a1a" stroke="#1a1a1a" stroke-width="0.18">Stretch</text>
<line x1="450.0" y1="563.5" x2="454.3" y2="568.2" stroke="#111" stroke-width="1.0"/>
<polygon points="458.7,573.0 453.0,569.4 455.6,567.0" fill="#111"/>
<text x="460.2" y="575.1" font-size="5.3" font-weight="bold" style='font-family:"Liberation Sans", sans-serif' text-anchor="start" fill="#1a1a1a" stroke="#1a1a1a" stroke-width="0.18">C-O Stretch</text>
<line x1="489.0" y1="545.3" x2="505.1" y2="545.3" stroke="#111" stroke-width="1.0"/>
<polygon points="511.6,545.3 505.1,547.0 505.1,543.5" fill="#111"/>
<text x="513.1" y="548.1" font-size="5.3" font-weight="bold" style='font-family:"Liberation Sans", sans-serif' text-anchor="start" fill="#1a1a1a" stroke="#1a1a1a" stroke-width="0.18">C=C Stretch</text>
<line x1="486.8" y1="551.4" x2="498.5" y2="551.4" stroke="#111" stroke-width="1.0"/>
<polygon points="505.0,551.4 498.5,553.1 498.5,549.6" fill="#111"/>
<text x="510.6" y="554.9" font-size="5.3" font-weight="bold" style='font-family:"Liberation Sans", sans-serif' text-anchor="start" fill="#1a1a1a" stroke="#1a1a1a" stroke-width="0.18">C=N Stretch</text>
<line x1="477.0" y1="563.1" x2="492.0" y2="563.1" stroke="#111" stroke-width="1.0"/>
<polygon points="498.5,563.1 492.0,564.9 492.0,561.4" fill="#111"/>
<text x="501.1" y="565.6" font-size="5.3" font-weight="bold" style='font-family:"Liberation Sans", sans-serif' text-anchor="start" fill="#1a1a1a" stroke="#1a1a1a" stroke-width="0.18">C-N Stretch</text>
<line x1="616.9" y1="535.5" x2="616.9" y2="541.0" stroke="#111" stroke-width="1.0"/>
<polygon points="616.9,547.5 615.1,541.0 618.6,541.0" fill="#111"/>
<text x="609.3" y="550.9" font-size="5.2" font-weight="bold" style='font-family:"Liberation Sans", sans-serif' text-anchor="start" fill="#1a1a1a" stroke="#1a1a1a" stroke-width="0.18">O-H Stretch</text>
<line x1="608.2" y1="555.3" x2="625.3" y2="555.3" stroke="#2e2e2e" stroke-width="1.6"/>
<text x="627.5" y="557.8" font-size="7.4" font-weight="bold" style='font-family:"Liberation Sans", sans-serif' text-anchor="start" fill="#222" stroke="#222" stroke-width="0.18">[rGO-M1-Por]</text>
<line x1="608.2" y1="564.4" x2="625.3" y2="564.4" stroke="#4563f2" stroke-width="1.6"/>
<text x="627.5" y="566.9" font-size="7.4" font-weight="bold" style='font-family:"Liberation Sans", sans-serif' text-anchor="start" fill="#222" stroke="#222" stroke-width="0.18">[rGO]</text>
<line x1="608.2" y1="573.7" x2="625.3" y2="573.7" stroke="#f23a3a" stroke-width="1.6"/>
<text x="627.5" y="576.2" font-size="7.4" font-weight="bold" style='font-family:"Liberation Sans", sans-serif' text-anchor="start" fill="#222" stroke="#222" stroke-width="0.18">[M1-Por]</text>
<rect x="50.1" y="651.7" width="281.9" height="221.89999999999998" fill="none" stroke="#333" stroke-width="1.3"/>
<line x1="60.2" y1="873.6" x2="60.2" y2="877.6" stroke="#3c3c3c" stroke-width="1.0"/>
<line x1="79.4" y1="873.6" x2="79.4" y2="876.2" stroke="#3c3c3c" stroke-width="1.0"/>
<line x1="98.6" y1="873.6" x2="98.6" y2="877.6" stroke="#3c3c3c" stroke-width="1.0"/>
<line x1="117.8" y1="873.6" x2="117.8" y2="876.2" stroke="#3c3c3c" stroke-width="1.0"/>
<line x1="137.0" y1="873.6" x2="137.0" y2="877.6" stroke="#3c3c3c" stroke-width="1.0"/>
<line x1="156.2" y1="873.6" x2="156.2" y2="876.2" stroke="#3c3c3c" stroke-width="1.0"/>
<line x1="175.4" y1="873.6" x2="175.4" y2="877.6" stroke="#3c3c3c" stroke-width="1.0"/>
<line x1="194.6" y1="873.6" x2="194.6" y2="876.2" stroke="#3c3c3c" stroke-width="1.0"/>
<line x1="213.8" y1="873.6" x2="213.8" y2="877.6" stroke="#3c3c3c" stroke-width="1.0"/>
<line x1="233.0" y1="873.6" x2="233.0" y2="876.2" stroke="#3c3c3c" stroke-width="1.0"/>
<line x1="252.2" y1="873.6" x2="252.2" y2="877.6" stroke="#3c3c3c" stroke-width="1.0"/>
<line x1="271.4" y1="873.6" x2="271.4" y2="876.2" stroke="#3c3c3c" stroke-width="1.0"/>
<line x1="290.6" y1="873.6" x2="290.6" y2="877.6" stroke="#3c3c3c" stroke-width="1.0"/>
<line x1="309.8" y1="873.6" x2="309.8" y2="876.2" stroke="#3c3c3c" stroke-width="1.0"/>
<line x1="329.0" y1="873.6" x2="329.0" y2="877.6" stroke="#3c3c3c" stroke-width="1.0"/>
<text x="60.2" y="888.3" font-size="9.0" font-weight="bold" style='font-family:"Liberation Sans", sans-serif' text-anchor="middle" fill="#111" stroke="#111" stroke-width="0.2">500</text>
<text x="98.6" y="888.3" font-size="9.0" font-weight="bold" style='font-family:"Liberation Sans", sans-serif' text-anchor="middle" fill="#111" stroke="#111" stroke-width="0.2">1000</text>
<text x="137.0" y="888.3" font-size="9.0" font-weight="bold" style='font-family:"Liberation Sans", sans-serif' text-anchor="middle" fill="#111" stroke="#111" stroke-width="0.2">1500</text>
<text x="175.4" y="888.3" font-size="9.0" font-weight="bold" style='font-family:"Liberation Sans", sans-serif' text-anchor="middle" fill="#111" stroke="#111" stroke-width="0.2">2000</text>
<text x="213.8" y="888.3" font-size="9.0" font-weight="bold" style='font-family:"Liberation Sans", sans-serif' text-anchor="middle" fill="#111" stroke="#111" stroke-width="0.2">2500</text>
<text x="252.2" y="888.3" font-size="9.0" font-weight="bold" style='font-family:"Liberation Sans", sans-serif' text-anchor="middle" fill="#111" stroke="#111" stroke-width="0.2">3000</text>
<text x="290.6" y="888.3" font-size="9.0" font-weight="bold" style='font-family:"Liberation Sans", sans-serif' text-anchor="middle" fill="#111" stroke="#111" stroke-width="0.2">3500</text>
<text x="329.0" y="888.3" font-size="9.0" font-weight="bold" style='font-family:"Liberation Sans", sans-serif' text-anchor="middle" fill="#111" stroke="#111" stroke-width="0.2">4000</text>
<text x="191" y="906.6" font-size="11.6" font-weight="bold" style='font-family:"Liberation Sans", sans-serif' text-anchor="middle" fill="#111" stroke="#111" stroke-width="0.25">Wavenumber (nm)</text>
<text x="0" y="0" font-size="11.8" font-weight="bold" font-family='"Liberation Sans", sans-serif' text-anchor="middle" fill="#111" stroke="#111" stroke-width="0.25" transform="translate(35.7,762.5) rotate(-90)">Transmittance (%)</text>
<text x="3.6999999999999997" y="878.0" font-size="15.2" font-weight="bold" style='font-family:"Liberation Serif", serif' text-anchor="start" fill="#111" >(d)</text>
<polyline points="52.6,716.2 53.7,721.5 54.9,720.9 57.5,718.0 61.0,714.5 66.3,711.5 71.5,710.1 76.8,708.9 82.9,708.3 85.5,705.7 89.9,706.2 94.3,707.4 98.7,709.7 102.2,708.7 104.8,706.6 107.4,703.1 110.1,704.8 111.8,700.4 113.6,702.2 117.1,695.2 120.6,690.5 124.1,691.3 129.3,691.2 134.6,690.3 137.4,690.8 141.6,689.6 145.1,687.0 147.7,685.2 150.4,681.7 152.8,680.2 156.5,680.3 163.9,681.1 177.7,680.2 188.8,679.4 205.5,678.8 233.2,678.0 247.1,677.4 261.0,676.1 277.6,674.7 291.5,672.7 302.6,671.1 316.4,671.1 328.9,670.0" fill="none" stroke="#2e2e2e" stroke-width="1.5" stroke-linejoin="round" stroke-linecap="round"/>
<polyline points="52.9,781.1 55.2,780.4 59.0,776.6 64.7,771.6 70.4,768.4 76.1,766.5 80.8,765.5 83.3,765.5 85.5,761.8 88.4,763.3 93.1,765.0 96.9,766.5 99.8,767.4 102.6,765.2 105.5,760.8 108.3,757.0 112.1,754.7 115.9,753.2 118.8,750.4 121.6,746.6 127.3,745.6 131.1,745.6 134.9,744.1 137.7,744.7 140.6,747.0 142.5,748.5 145.3,744.7 149.1,742.8 152.0,743.7 153.9,744.7 156.7,739.9 159.7,738.5 172.2,739.0 191.6,739.0 219.3,738.5 247.1,737.6 266.5,737.1 277.6,735.7 288.7,732.9 299.8,731.5 304.0,729.3 316.4,730.2 328.9,729.3" fill="none" stroke="#4563f2" stroke-width="1.5" stroke-linejoin="round" stroke-linecap="round"/>
<polyline points="52.4,845.5 53.8,842.0 55.5,842.9 57.3,845.9 59.4,841.7 61.1,843.8 62.9,842.9 65.1,843.8 66.9,842.9 68.7,847.0 70.9,841.2 73.0,847.3 74.8,837.7 76.2,833.3 77.9,836.4 80.0,834.7 81.8,839.4 83.5,842.9 85.3,833.3 87.0,825.4 88.8,824.5 90.6,821.9 92.3,824.5 94.6,821.4 96.7,824.5 98.4,829.8 99.7,840.3 101.1,848.2 102.8,828.0 104.6,828.9 106.3,835.0 107.5,843.8 109.5,835.0 110.7,837.7 112.4,846.4 114.2,849.9 116.0,851.7 117.7,855.2 119.5,847.3 121.2,836.8 123.0,831.9 124.7,836.8 125.9,842.0 127.7,847.3 130.0,855.7 132.6,847.3 134.3,836.8 135.8,829.4 137.5,851.7 139.6,840.3 141.0,845.5 142.0,850.1 144.4,837.8 146.7,820.6 147.9,825.5 149.6,835.2 150.9,818.5 151.9,806.3 154.0,803.7 155.8,797.5 157.5,791.4 160.1,789.3 166.3,790.0 173.3,789.6 180.3,791.9 187.3,790.9 192.6,792.3 198.7,794.0 201.3,790.9 203.4,788.8 205.2,794.9 213.6,796.6 224.1,799.3 234.6,802.4 238.1,805.4 240.2,812.4 241.6,810.7 243.4,812.4 246.2,822.3 248.5,814.3 251.5,809.1 255.3,807.3 259.9,808.4 264.5,809.9 268.4,810.7 272.2,809.9 276.8,810.0 280.6,808.8 284.5,807.3 286.8,806.1 289.0,802.2 292.9,798.1 297.5,795.0 301.3,793.5 305.1,791.5 308.2,792.3 312.0,791.5 318.2,793.0 328.9,792.3" fill="none" stroke="#f23a3a" stroke-width="1.5" stroke-linejoin="round" stroke-linecap="round"/>
<line x1="54.9" y1="721.5" x2="61.1" y2="726.3" stroke="#111" stroke-width="1.0"/>
<polygon points="66.3,730.2 60.1,727.6 62.2,724.9" fill="#111"/>
<text x="61.9" y="736.7" font-size="5.3" font-weight="bold" style='font-family:"Liberation Sans", sans-serif' text-anchor="start" fill="#1a1a1a" stroke="#1a1a1a" stroke-width="0.18">Zn-N(pyrr)</text>
<text x="61.9" y="743.1" font-size="5.3" font-weight="bold" style='font-family:"Liberation Sans", sans-serif' text-anchor="start" fill="#1a1a1a" stroke="#1a1a1a" stroke-width="0.18">Stretch</text>
<line x1="101.7" y1="709.5" x2="101.7" y2="716.0" stroke="#111" stroke-width="1.0"/>
<polygon points="101.7,722.5 100.0,716.0 103.5,716.0" fill="#111"/>
<text x="93.4" y="735.1" font-size="5.3" font-weight="bold" style='font-family:"Liberation Sans", sans-serif' text-anchor="start" fill="#1a1a1a" stroke="#1a1a1a" stroke-width="0.18">C-O Stretch</text>
<line x1="137.4" y1="691.5" x2="137.4" y2="699.4" stroke="#111" stroke-width="1.0"/>
<polygon points="137.4,705.9 135.7,699.4 139.2,699.4" fill="#111"/>
<text x="125.3" y="712.1" font-size="5.3" font-weight="bold" style='font-family:"Liberation Sans", sans-serif' text-anchor="start" fill="#1a1a1a" stroke="#1a1a1a" stroke-width="0.18">C=C Stretch</text>
<line x1="99.8" y1="768.5" x2="99.8" y2="775.4" stroke="#111" stroke-width="1.0"/>
<polygon points="99.8,781.9 98.0,775.4 101.5,775.4" fill="#111"/>
<text x="90.3" y="788.5" font-size="5.3" font-weight="bold" style='font-family:"Liberation Sans", sans-serif' text-anchor="start" fill="#1a1a1a" stroke="#1a1a1a" stroke-width="0.18">C-O Stretch</text>
<line x1="142.5" y1="749.5" x2="142.5" y2="757.4" stroke="#111" stroke-width="1.0"/>
<polygon points="142.5,763.9 140.8,757.4 144.2,757.4" fill="#111"/>
<text x="130.5" y="771.1" font-size="5.3" font-weight="bold" style='font-family:"Liberation Sans", sans-serif' text-anchor="start" fill="#1a1a1a" stroke="#1a1a1a" stroke-width="0.18">C=C Stretch</text>
<line x1="154.1" y1="745.5" x2="154.1" y2="750.7" stroke="#111" stroke-width="1.0"/>
<polygon points="154.1,757.2 152.3,750.7 155.8,750.7" fill="#111"/>
<text x="148.2" y="762.3" font-size="5.3" font-weight="bold" style='font-family:"Liberation Sans", sans-serif' text-anchor="start" fill="#1a1a1a" stroke="#1a1a1a" stroke-width="0.18">C=O Stretch</text>
<line x1="58.1" y1="846.4" x2="61.0" y2="848.8" stroke="#111" stroke-width="1.0"/>
<polygon points="66.0,852.9 59.9,850.1 62.1,847.4" fill="#111"/>
<text x="64.6" y="859.6" font-size="5.3" font-weight="bold" style='font-family:"Liberation Sans", sans-serif' text-anchor="start" fill="#1a1a1a" stroke="#1a1a1a" stroke-width="0.18">Zn-N(pyrr)</text>
<text x="64.6" y="866.1" font-size="5.3" font-weight="bold" style='font-family:"Liberation Sans", sans-serif' text-anchor="start" fill="#1a1a1a" stroke="#1a1a1a" stroke-width="0.18">Stretch</text>
<line x1="107.5" y1="845.0" x2="107.5" y2="857.1" stroke="#111" stroke-width="1.0"/>
<polygon points="107.5,863.6 105.8,857.1 109.2,857.1" fill="#111"/>
<text x="100.7" y="869.0" font-size="5.3" font-weight="bold" style='font-family:"Liberation Sans", sans-serif' text-anchor="start" fill="#1a1a1a" stroke="#1a1a1a" stroke-width="0.18">C-O Stretch</text>
<line x1="130.8" y1="857.5" x2="144.7" y2="857.5" stroke="#111" stroke-width="1.0"/>
<polygon points="151.2,857.5 144.7,859.2 144.7,855.8" fill="#111"/>
<text x="154.0" y="861.3" font-size="5.3" font-weight="bold" style='font-family:"Liberation Sans", sans-serif' text-anchor="start" fill="#1a1a1a" stroke="#1a1a1a" stroke-width="0.18">C-N Stretch</text>
<line x1="144.0" y1="848.7" x2="155.9" y2="848.7" stroke="#111" stroke-width="1.0"/>
<polygon points="162.4,848.7 155.9,850.5 155.9,847.0" fill="#111"/>
<text x="165.0" y="850.4" font-size="5.3" font-weight="bold" style='font-family:"Liberation Sans", sans-serif' text-anchor="start" fill="#1a1a1a" stroke="#1a1a1a" stroke-width="0.18">C=N Stretch</text>
<line x1="150.9" y1="834.3" x2="165.9" y2="834.3" stroke="#111" stroke-width="1.0"/>
<polygon points="172.4,834.3 165.9,836.0 165.9,832.5" fill="#111"/>
<text x="174.2" y="836.9" font-size="5.3" font-weight="bold" style='font-family:"Liberation Sans", sans-serif' text-anchor="start" fill="#1a1a1a" stroke="#1a1a1a" stroke-width="0.18">C=C Stretch</text>
<line x1="271.7" y1="812.5" x2="271.7" y2="816.5" stroke="#111" stroke-width="1.0"/>
<polygon points="271.7,823.0 269.9,816.5 273.4,816.5" fill="#111"/>
<text x="264.5" y="830.8" font-size="5.2" font-weight="bold" style='font-family:"Liberation Sans", sans-serif' text-anchor="start" fill="#1a1a1a" stroke="#1a1a1a" stroke-width="0.18">O-H Stretch</text>
<line x1="265.8" y1="850.2" x2="282.2" y2="850.2" stroke="#2e2e2e" stroke-width="1.6"/>
<text x="283.7" y="852.7" font-size="7.4" font-weight="bold" style='font-family:"Liberation Sans", sans-serif' text-anchor="start" fill="#222" stroke="#222" stroke-width="0.18">[rGO-M2-Por]</text>
<line x1="265.8" y1="859.2" x2="282.2" y2="859.2" stroke="#4563f2" stroke-width="1.6"/>
<text x="283.7" y="861.7" font-size="7.4" font-weight="bold" style='font-family:"Liberation Sans", sans-serif' text-anchor="start" fill="#222" stroke="#222" stroke-width="0.18">[rGO]</text>
<line x1="265.8" y1="868.1" x2="282.2" y2="868.1" stroke="#f23a3a" stroke-width="1.6"/>
<text x="283.7" y="870.6" font-size="7.4" font-weight="bold" style='font-family:"Liberation Sans", sans-serif' text-anchor="start" fill="#222" stroke="#222" stroke-width="0.18">[M2-Por]</text>
<rect x="390.0" y="651.0" width="284.4" height="219.0" fill="none" stroke="#333" stroke-width="1.3"/>
<line x1="400.2" y1="870.0" x2="400.2" y2="874.0" stroke="#3c3c3c" stroke-width="1.0"/>
<line x1="419.6" y1="870.0" x2="419.6" y2="872.6" stroke="#3c3c3c" stroke-width="1.0"/>
<line x1="439.0" y1="870.0" x2="439.0" y2="874.0" stroke="#3c3c3c" stroke-width="1.0"/>
<line x1="458.4" y1="870.0" x2="458.4" y2="872.6" stroke="#3c3c3c" stroke-width="1.0"/>
<line x1="477.8" y1="870.0" x2="477.8" y2="874.0" stroke="#3c3c3c" stroke-width="1.0"/>
<line x1="497.2" y1="870.0" x2="497.2" y2="872.6" stroke="#3c3c3c" stroke-width="1.0"/>
<line x1="516.6" y1="870.0" x2="516.6" y2="874.0" stroke="#3c3c3c" stroke-width="1.0"/>
<line x1="536.0" y1="870.0" x2="536.0" y2="872.6" stroke="#3c3c3c" stroke-width="1.0"/>
<line x1="555.4" y1="870.0" x2="555.4" y2="874.0" stroke="#3c3c3c" stroke-width="1.0"/>
<line x1="574.8" y1="870.0" x2="574.8" y2="872.6" stroke="#3c3c3c" stroke-width="1.0"/>
<line x1="594.2" y1="870.0" x2="594.2" y2="874.0" stroke="#3c3c3c" stroke-width="1.0"/>
<line x1="613.6" y1="870.0" x2="613.6" y2="872.6" stroke="#3c3c3c" stroke-width="1.0"/>
<line x1="633.0" y1="870.0" x2="633.0" y2="874.0" stroke="#3c3c3c" stroke-width="1.0"/>
<line x1="652.4" y1="870.0" x2="652.4" y2="872.6" stroke="#3c3c3c" stroke-width="1.0"/>
<line x1="671.8" y1="870.0" x2="671.8" y2="874.0" stroke="#3c3c3c" stroke-width="1.0"/>
<text x="400.2" y="883.9" font-size="9.0" font-weight="bold" style='font-family:"Liberation Sans", sans-serif' text-anchor="middle" fill="#111" stroke="#111" stroke-width="0.2">500</text>
<text x="439.0" y="883.9" font-size="9.0" font-weight="bold" style='font-family:"Liberation Sans", sans-serif' text-anchor="middle" fill="#111" stroke="#111" stroke-width="0.2">1000</text>
<text x="477.8" y="883.9" font-size="9.0" font-weight="bold" style='font-family:"Liberation Sans", sans-serif' text-anchor="middle" fill="#111" stroke="#111" stroke-width="0.2">1500</text>
<text x="516.6" y="883.9" font-size="9.0" font-weight="bold" style='font-family:"Liberation Sans", sans-serif' text-anchor="middle" fill="#111" stroke="#111" stroke-width="0.2">2000</text>
<text x="555.4" y="883.9" font-size="9.0" font-weight="bold" style='font-family:"Liberation Sans", sans-serif' text-anchor="middle" fill="#111" stroke="#111" stroke-width="0.2">2500</text>
<text x="594.2" y="883.9" font-size="9.0" font-weight="bold" style='font-family:"Liberation Sans", sans-serif' text-anchor="middle" fill="#111" stroke="#111" stroke-width="0.2">3000</text>
<text x="633.0" y="883.9" font-size="9.0" font-weight="bold" style='font-family:"Liberation Sans", sans-serif' text-anchor="middle" fill="#111" stroke="#111" stroke-width="0.2">3500</text>
<text x="671.8" y="883.9" font-size="9.0" font-weight="bold" style='font-family:"Liberation Sans", sans-serif' text-anchor="middle" fill="#111" stroke="#111" stroke-width="0.2">4000</text>
<text x="532.5" y="902.3" font-size="11.6" font-weight="bold" style='font-family:"Liberation Sans", sans-serif' text-anchor="middle" fill="#111" stroke="#111" stroke-width="0.25">Wavenumber (nm)</text>
<text x="0" y="0" font-size="11.8" font-weight="bold" font-family='"Liberation Sans", sans-serif' text-anchor="middle" fill="#111" stroke="#111" stroke-width="0.25" transform="translate(376.4,760.2) rotate(-90)">Transmittance (%)</text>
<text x="353.40000000000003" y="870.0" font-size="15.2" font-weight="bold" style='font-family:"Liberation Serif", serif' text-anchor="start" fill="#111" >(e)</text>
<polyline points="392.6,726.2 394.9,725.8 397.5,722.3 401.0,717.1 404.5,714.5 408.0,712.7 410.7,713.2 412.4,711.5 415.0,711.8 417.7,710.6 420.3,711.5 422.9,713.2 424.7,710.1 427.3,707.4 429.9,708.0 433.4,710.1 436.9,712.7 439.6,714.5 443.1,711.8 446.6,708.3 449.2,705.7 451.0,706.2 452.7,702.7 455.3,702.2 458.0,698.7 461.5,693.4 464.1,695.2 466.7,694.7 469.3,695.7 472.9,694.7 475.5,695.7 477.8,695.2 480.7,693.4 483.4,694.3 486.0,688.2 487.7,687.3 489.5,690.8 490.3,691.2 491.4,681.3 493.4,679.9 495.6,681.2 501.4,682.7 512.8,683.6 527.0,684.1 541.2,683.3 544.1,682.1 546.1,684.1 561.2,683.6 589.6,682.7 612.4,681.3 626.6,679.0 646.6,676.4 660.8,677.0 671.6,676.4" fill="none" stroke="#2e2e2e" stroke-width="1.5" stroke-linejoin="round" stroke-linecap="round"/>
<polyline points="392.4,793.6 394.1,793.6 397.3,790.1 400.8,786.6 405.1,782.2 411.3,777.8 416.5,775.7 420.9,775.2 423.2,775.7 425.6,770.8 428.8,772.6 434.1,774.8 439.7,777.5 442.8,773.4 446.3,768.2 449.0,764.7 452.4,762.9 456.0,761.5 458.6,757.7 462.1,752.8 465.6,752.1 470.8,752.8 476.1,749.8 479.6,751.5 483.1,754.7 485.7,750.1 490.1,748.4 492.7,749.4 495.0,750.7 498.0,744.5 501.5,742.8 504.2,742.5 518.5,743.9 546.9,743.3 575.4,742.5 603.9,741.1 618.1,739.6 632.3,736.2 642.3,733.9 646.6,732.5 671.6,732.5" fill="none" stroke="#4563f2" stroke-width="1.5" stroke-linejoin="round" stroke-linecap="round"/>
<polyline points="392.4,808.1 393.4,823.0 394.6,822.2 395.9,823.0 397.3,818.7 399.0,821.3 400.8,823.9 402.5,836.2 404.3,823.0 406.0,822.2 407.4,827.4 408.7,834.4 409.9,819.5 411.6,821.3 413.0,820.4 414.8,824.8 416.5,830.0 417.9,824.8 419.7,829.2 421.8,838.8 423.5,853.7 424.9,830.0 426.7,816.9 428.4,812.5 430.2,816.9 432.0,817.8 434.1,820.4 436.2,825.7 437.9,831.8 439.3,841.4 440.7,836.2 441.9,843.2 443.2,825.7 444.6,823.0 446.0,829.2 447.2,830.9 448.4,822.2 450.2,828.3 451.9,847.6 454.2,815.1 456.0,825.7 457.7,852.8 459.5,825.7 460.7,812.5 462.4,816.0 463.8,809.0 465.6,819.5 467.3,809.9 469.1,814.3 470.8,819.5 473.5,823.0 475.8,815.1 477.9,836.2 480.0,811.6 481.8,815.0 483.2,819.4 484.4,813.3 485.6,829.1 486.7,811.5 487.9,800.7 490.5,801.9 494.0,804.2 495.8,805.4 497.5,801.0 502.8,801.0 508.0,801.9 516.8,801.0 518.5,802.8 525.5,802.4 532.6,803.3 541.3,804.9 550.1,804.2 558.8,805.9 567.6,805.9 574.6,807.2 578.5,808.9 580.7,812.4 582.5,813.3 584.2,810.1 586.0,814.2 587.7,817.7 589.5,814.2 592.1,808.0 595.6,806.3 598.4,806.8 604.5,805.3 613.7,805.3 622.9,804.8 626.0,805.3 627.8,807.6 629.8,804.8 641.3,804.2 655.1,803.8 672.0,804.1" fill="none" stroke="#f23a3a" stroke-width="1.5" stroke-linejoin="round" stroke-linecap="round"/>
<line x1="394.9" y1="725.8" x2="401.0" y2="731.2" stroke="#111" stroke-width="1.0"/>
<polygon points="405.9,735.5 399.9,732.5 402.2,729.9" fill="#111"/>
<text x="401.9" y="743.4" font-size="5.3" font-weight="bold" style='font-family:"Liberation Sans", sans-serif' text-anchor="start" fill="#1a1a1a" stroke="#1a1a1a" stroke-width="0.18">Mn-N(pyrr)</text>
<text x="401.9" y="749.5" font-size="5.3" font-weight="bold" style='font-family:"Liberation Sans", sans-serif' text-anchor="start" fill="#1a1a1a" stroke="#1a1a1a" stroke-width="0.18">Stretch</text>
<line x1="439.6" y1="716.0" x2="439.6" y2="721.3" stroke="#111" stroke-width="1.0"/>
<polygon points="439.6,727.8 437.9,721.3 441.4,721.3" fill="#111"/>
<text x="429.4" y="736.2" font-size="5.3" font-weight="bold" style='font-family:"Liberation Sans", sans-serif' text-anchor="start" fill="#1a1a1a" stroke="#1a1a1a" stroke-width="0.18">C-O Stretch</text>
<line x1="477.8" y1="696.0" x2="477.8" y2="704.7" stroke="#111" stroke-width="1.0"/>
<polygon points="477.8,711.2 476.1,704.7 479.6,704.7" fill="#111"/>
<text x="465.0" y="720.9" font-size="5.3" font-weight="bold" style='font-family:"Liberation Sans", sans-serif' text-anchor="start" fill="#1a1a1a" stroke="#1a1a1a" stroke-width="0.18">C=C Stretch</text>
<line x1="439.9" y1="778.5" x2="439.9" y2="785.5" stroke="#111" stroke-width="1.0"/>
<polygon points="439.9,792.0 438.1,785.5 441.6,785.5" fill="#111"/>
<text x="430.9" y="798.8" font-size="5.3" font-weight="bold" style='font-family:"Liberation Sans", sans-serif' text-anchor="start" fill="#1a1a1a" stroke="#1a1a1a" stroke-width="0.18">C-O Stretch</text>
<line x1="483.3" y1="756.0" x2="483.3" y2="764.5" stroke="#111" stroke-width="1.0"/>
<polygon points="483.3,771.0 481.6,764.5 485.1,764.5" fill="#111"/>
<text x="471.2" y="779.1" font-size="5.3" font-weight="bold" style='font-family:"Liberation Sans", sans-serif' text-anchor="start" fill="#1a1a1a" stroke="#1a1a1a" stroke-width="0.18">C=C Stretch</text>
<line x1="495.0" y1="752.0" x2="495.0" y2="757.1" stroke="#111" stroke-width="1.0"/>
<polygon points="495.0,763.6 493.2,757.1 496.8,757.1" fill="#111"/>
<text x="488.9" y="769.9" font-size="5.3" font-weight="bold" style='font-family:"Liberation Sans", sans-serif' text-anchor="start" fill="#1a1a1a" stroke="#1a1a1a" stroke-width="0.18">C=O Stretch</text>
<line x1="402.5" y1="836.7" x2="406.1" y2="839.3" stroke="#111" stroke-width="1.0"/>
<polygon points="411.3,843.2 405.0,840.7 407.1,837.9" fill="#111"/>
<text x="403.4" y="850.0" font-size="5.3" font-weight="bold" style='font-family:"Liberation Sans", sans-serif' text-anchor="start" fill="#1a1a1a" stroke="#1a1a1a" stroke-width="0.18">Mn-N(pyrr)</text>
<text x="403.4" y="856.7" font-size="5.3" font-weight="bold" style='font-family:"Liberation Sans", sans-serif' text-anchor="start" fill="#1a1a1a" stroke="#1a1a1a" stroke-width="0.18">Stretch</text>
<line x1="441.7" y1="844.0" x2="441.7" y2="856.1" stroke="#111" stroke-width="1.0"/>
<polygon points="441.7,862.6 439.9,856.1 443.4,856.1" fill="#111"/>
<text x="437.0" y="867.2" font-size="5.3" font-weight="bold" style='font-family:"Liberation Sans", sans-serif' text-anchor="start" fill="#1a1a1a" stroke="#1a1a1a" stroke-width="0.18">C-O Stretch</text>
<line x1="458.2" y1="852.5" x2="471.4" y2="852.5" stroke="#111" stroke-width="1.0"/>
<polygon points="477.9,852.5 471.4,854.2 471.4,850.8" fill="#111"/>
<text x="481.0" y="854.9" font-size="5.3" font-weight="bold" style='font-family:"Liberation Sans", sans-serif' text-anchor="start" fill="#1a1a1a" stroke="#1a1a1a" stroke-width="0.18">C-N Stretch</text>
<line x1="478.4" y1="836.5" x2="490.3" y2="836.5" stroke="#111" stroke-width="1.0"/>
<polygon points="496.8,836.5 490.3,838.2 490.3,834.8" fill="#111"/>
<text x="497.8" y="838.5" font-size="5.3" font-weight="bold" style='font-family:"Liberation Sans", sans-serif' text-anchor="start" fill="#1a1a1a" stroke="#1a1a1a" stroke-width="0.18">C=N Stretch</text>
<line x1="486.3" y1="825.2" x2="502.4" y2="825.2" stroke="#111" stroke-width="1.0"/>
<polygon points="508.9,825.2 502.4,827.0 502.4,823.5" fill="#111"/>
<text x="511.9" y="827.3" font-size="5.3" font-weight="bold" style='font-family:"Liberation Sans", sans-serif' text-anchor="start" fill="#1a1a1a" stroke="#1a1a1a" stroke-width="0.18">C=C Stretch</text>
<line x1="627.8" y1="808.5" x2="627.8" y2="815.1" stroke="#111" stroke-width="1.0"/>
<polygon points="627.8,821.6 626.0,815.1 629.5,815.1" fill="#111"/>
<text x="614.5" y="827.8" font-size="5.2" font-weight="bold" style='font-family:"Liberation Sans", sans-serif' text-anchor="start" fill="#1a1a1a" stroke="#1a1a1a" stroke-width="0.18">O-H Stretch</text>
<line x1="608.4" y1="846.7" x2="624.5" y2="846.7" stroke="#2e2e2e" stroke-width="1.6"/>
<text x="626.7" y="849.2" font-size="7.4" font-weight="bold" style='font-family:"Liberation Sans", sans-serif' text-anchor="start" fill="#222" stroke="#222" stroke-width="0.18">[rGO-M3-Por]</text>
<line x1="608.4" y1="855.4" x2="624.5" y2="855.4" stroke="#4563f2" stroke-width="1.6"/>
<text x="626.7" y="857.9" font-size="7.4" font-weight="bold" style='font-family:"Liberation Sans", sans-serif' text-anchor="start" fill="#222" stroke="#222" stroke-width="0.18">[rGO]</text>
<line x1="608.4" y1="864.3" x2="624.5" y2="864.3" stroke="#f23a3a" stroke-width="1.6"/>
<text x="626.7" y="866.8" font-size="7.4" font-weight="bold" style='font-family:"Liberation Sans", sans-serif' text-anchor="start" fill="#222" stroke="#222" stroke-width="0.18">[M3-Por]</text>
</svg>
</body></html>
